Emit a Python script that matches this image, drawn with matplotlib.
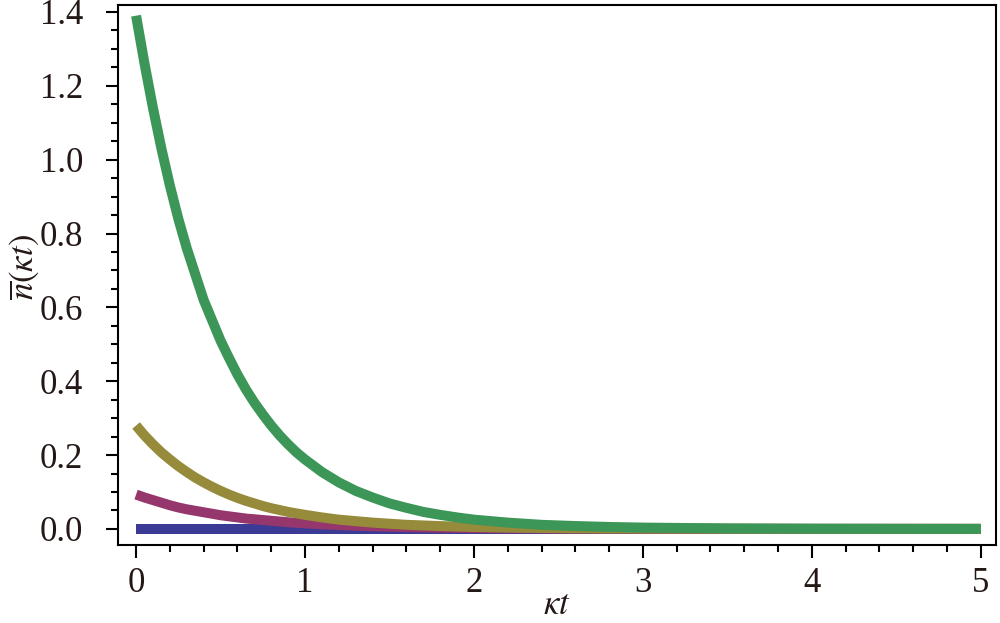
import matplotlib
matplotlib.use("Agg")
import matplotlib.pyplot as plt
from matplotlib.ticker import MultipleLocator, FormatStrFormatter

# values
kt = [0.0, 0.05, 0.1, 0.15, 0.2, 0.25, 0.3, 0.35, 0.4, 0.45, 0.5,
      0.55, 0.6, 0.65, 0.7, 0.75, 0.8, 0.85, 0.9, 0.95, 1.0,
      1.1, 1.2, 1.3, 1.4, 1.5, 1.6, 1.7, 1.8, 1.9, 2.0,
      2.2, 2.4, 2.6, 2.8, 3.0, 3.5, 4.0, 5.0]
n_green = [1.39, 1.26, 1.14, 1.03, 0.93, 0.84, 0.76, 0.69, 0.62, 0.565, 0.51,
           0.463, 0.418, 0.378, 0.342, 0.31, 0.28, 0.253, 0.229, 0.207, 0.188,
           0.154, 0.126, 0.103, 0.085, 0.069, 0.057, 0.046, 0.038, 0.031, 0.025,
           0.017, 0.011, 0.0077, 0.0052, 0.0035, 0.0013, 0.0005, 0.0]
n_olive = [0.28, 0.253, 0.229, 0.207, 0.188, 0.17, 0.154, 0.139, 0.126, 0.114, 0.103,
           0.093, 0.084, 0.076, 0.069, 0.062, 0.056, 0.051, 0.046, 0.042, 0.038,
           0.031, 0.025, 0.021, 0.017, 0.014, 0.011, 0.0093, 0.0076, 0.0062, 0.0051,
           0.0034, 0.0023, 0.0015, 0.001, 0.0007, 0.0003, 0.0001, 0.0]
n_purple = [0.093, 0.085, 0.078, 0.071, 0.064, 0.058, 0.053, 0.049, 0.045, 0.041, 0.037,
            0.034, 0.031, 0.028, 0.026, 0.024, 0.022, 0.02, 0.018, 0.0165, 0.015,
            0.0125, 0.0103, 0.0085, 0.007, 0.0058, 0.0048, 0.004, 0.0033, 0.0027, 0.0022,
            0.0015, 0.001, 0.0007, 0.0005, 0.0003, 0.0001, 0.0, 0.0]
n_blue = [0.0] * len(kt)

series = [
    (n_blue, "#3b3b96"),
    (n_purple, "#95366c"),
    (n_olive, "#968b3b"),
    (n_green, "#3b9657"),
]

plt.rcParams["font.family"] = ["Liberation Serif", "DejaVu Serif"]
plt.rcParams["mathtext.fontset"] = "stix"

fig = plt.figure(figsize=(10, 6.23), dpi=100)
ax = fig.add_axes([0.118, 0.125, 0.878, 0.867])

for vals, color in series:
    ax.plot(kt, vals, color=color, lw=7.2, solid_capstyle="butt")

ax.set_xlim(-0.107, 5.09)
ax.set_ylim(-0.044, 1.419)

ax.xaxis.set_major_locator(MultipleLocator(1))
ax.xaxis.set_minor_locator(MultipleLocator(0.2))
ax.yaxis.set_major_locator(MultipleLocator(0.2))
ax.yaxis.set_minor_locator(MultipleLocator(0.05))
ax.yaxis.set_major_formatter(FormatStrFormatter("%.1f"))

ax.tick_params(which="both", direction="out", top=False, right=False,
               width=1.5, colors="black", labelsize=25, labelcolor="#231815")
ax.tick_params(which="major", length=9)
ax.tick_params(which="minor", length=5)
ax.tick_params(axis="y", which="major", pad=16)
ax.tick_params(axis="x", which="major", pad=7)
for sp in ax.spines.values():
    sp.set_linewidth(1.5)

ax.set_xlabel(r"$\kappa t$", fontsize=25, labelpad=-8, color="#231815")
ax.set_ylabel(r"$\overline{n}(\kappa t)$", fontsize=25, color="#231815")
ax.yaxis.set_label_coords(-0.088, 0.515)

fig.savefig("out.png", dpi=100)
